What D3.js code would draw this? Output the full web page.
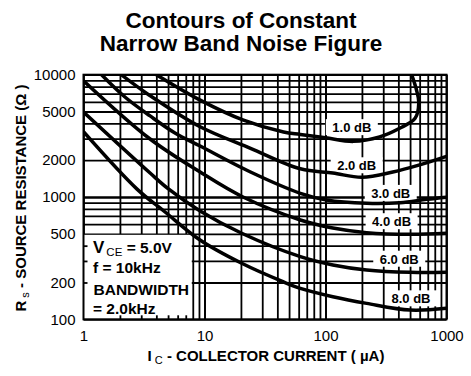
<!DOCTYPE html>
<html>
<head>
<meta charset="utf-8">
<title>Contours of Constant Narrow Band Noise Figure</title>
<script src="https://cdn.jsdelivr.net/npm/d3@7"></script>
<style>
    body { margin: 0; background: #fff; }
    text { font-family: "Liberation Sans", Arial, sans-serif; fill: #000; }
</style>
</head>
<body>
<script>
    // collector current (uA) / source resistance (ohm) for each contour
    var ic_1dB = [4.0, 9.2, 21, 45, 62, 100, 170, 280, 410, 550, 590, 565, 515];
    var rs_1dB = [10000, 6200, 4250, 3400, 3250, 3050, 2850, 3100, 3650, 4400, 5900, 7500, 10000];
    var ic_2dB = [2.05, 3.5, 9.2, 24, 62, 115, 200, 360, 600, 1000];
    var rs_2dB = [10000, 6800, 3750, 2500, 1700, 1570, 1450, 1600, 1830, 2150];
    var ic_3dB = [1.41, 2.2, 3.55, 5.7, 9.2, 24, 62, 102, 219, 413, 686, 1000];
    var rs_3dB = [10000, 6570, 4600, 3335, 2610, 1600, 1072, 945, 888, 898, 957, 995];
    var ic_4dB = [1.0, 3.55, 9.2, 20.8, 62, 115, 219, 500, 1000];
    var rs_4dB = [8930, 2980, 1600, 1000, 649, 558, 511, 495, 505];
    var ic_6dB = [1.0, 3.55, 5.0, 9.2, 20.3, 62, 115, 219, 500, 1000];
    var rs_6dB = [4950, 1570, 1170, 769, 505, 325, 278, 253, 242, 242];
    var ic_8dB = [1.0, 2.77, 4.72, 9.18, 20.3, 44.5, 62, 115, 219, 500, 1000];
    var rs_8dB = [3420, 1160, 754, 445, 287, 203, 179, 153, 135, 119, 123];

    var curveNames = ["1.0 dB", "2.0 dB", "3.0 dB", "4.0 dB", "6.0 dB", "8.0 dB"];
    var curveIc = [ic_1dB, ic_2dB, ic_3dB, ic_4dB, ic_6dB, ic_8dB];
    var curveRs = [rs_1dB, rs_2dB, rs_3dB, rs_4dB, rs_6dB, rs_8dB];
    // where each label sits (uA, ohm)
    var labelIc = [165, 181, 346, 352, 407, 509];
    var labelRs = [3690, 1800, 1070, 628, 310, 147];

    var xTicks = [1, 10, 100, 1000];
    var yTicks = [100, 200, 500, 1000, 2000, 5000, 10000];

    var W = 471, H = 376;
    var margin = {top: 74.7, left: 83.5, right: 24.5, bottom: 56.7};
    var width = W - margin.left - margin.right, height = H - margin.top - margin.bottom;

    var x = d3.scaleLog().domain([1, 1000]).range([0, width]);
    var y = d3.scaleLog().domain([100, 10000]).range([height, 0]);

    var xGrid = [], yGrid = [];
    [1, 10, 100].forEach(function (d) {
        for (var k = 1; k <= 10; k++) xGrid.push(d * k);
    });
    [100, 1000].forEach(function (d) {
        for (var k = 1; k <= 10; k++) yGrid.push(d * k);
    });

    var svg = d3.select('body').append('svg').attr('width', W).attr('height', H);

    svg.append('text').attr('x', 241).attr('y', 27.5).attr('text-anchor', 'middle')
        .attr('font-size', 22.5).attr('font-weight', 'bold').text('Contours of Constant');
    svg.append('text').attr('x', 241).attr('y', 51).attr('text-anchor', 'middle')
        .attr('font-size', 22.5).attr('font-weight', 'bold').text('Narrow Band Noise Figure');

    var g = svg.append('g').attr('transform', 'translate(' + margin.left + ',' + margin.top + ')');

    // grid
    g.append('g').attr('class', 'grid').attr('transform', 'translate(0,' + height + ')')
        .call(d3.axisBottom(x).tickValues(xGrid).tickSize(-height).tickFormat(''));
    g.append('g').attr('class', 'grid')
        .call(d3.axisLeft(y).tickValues(yGrid).tickSize(-width).tickFormat(''));
    g.selectAll('.grid .domain').remove();
    g.selectAll('.grid line').attr('stroke', '#000').attr('stroke-width', 1.8);

    // condition box in the lower-left corner
    var boxW = x(8), boxTop = y(500);
    g.append('rect').attr('x', 0).attr('y', boxTop + 1).attr('width', boxW - 1)
        .attr('height', height - boxTop - 1).attr('fill', '#fff');
    g.append('g').attr('transform', 'translate(0,' + height + ')')
        .call(d3.axisBottom(x).tickValues([2, 3, 4, 5, 6, 7]).tickSize(-4).tickFormat(''))
        .call(function (s) { s.select('.domain').remove(); s.selectAll('line').attr('stroke-width', 1.8); });
    g.append('g')
        .call(d3.axisLeft(y).tickValues([200, 300, 400]).tickSize(-4).tickFormat(''))
        .call(function (s) { s.select('.domain').remove(); s.selectAll('line').attr('stroke-width', 1.8); });

    var cond = g.append('g').attr('font-size', 15.5).attr('font-weight', 'bold');
    var t1 = cond.append('text').attr('x', 9.5).attr('y', boxTop + 19);
    t1.append('tspan').attr('font-size', 17).text('V');
    t1.append('tspan').attr('font-size', 11.5).attr('font-weight', 'normal').attr('dx', 2).attr('dy', 3).text('CE');
    t1.append('tspan').attr('dy', -3).text(' = 5.0V');
    cond.append('text').attr('x', 9.5).attr('y', boxTop + 39.5).text('f = 10kHz');
    cond.append('text').attr('x', 10).attr('y', boxTop + 61).text('BANDWIDTH');
    cond.append('text').attr('x', 9.5).attr('y', boxTop + 80.5).text('= 2.0kHz');

    // label backgrounds
    var labels = g.append('g').attr('font-size', 13).attr('font-weight', 'bold');
    labels.selectAll('rect').data(curveNames).enter().append('rect')
        .attr('x', function (d, i) { return x(labelIc[i]) - 26; })
        .attr('y', function (d, i) { return y(labelRs[i]) - 8.5; })
        .attr('width', 52).attr('height', 16).attr('fill', '#fff');

    // contours
    g.append('clipPath').attr('id', 'plotclip').append('rect')
        .attr('width', width).attr('height', height);
    var line = d3.line()
        .x(function (d) { return x(d[0]); })
        .y(function (d) { return y(d[1]); })
        .curve(d3.curveCatmullRom.alpha(0.5));
    g.append('g').attr('clip-path', 'url(#plotclip)')
        .selectAll('path').data(curveNames).enter().append('path')
        .attr('d', function (d, i) {
            return line(curveIc[i].map(function (v, j) { return [v, curveRs[i][j]]; }));
        })
        .attr('fill', 'none').attr('stroke', '#000').attr('stroke-width', 3.5);

    labels.selectAll('text').data(curveNames).enter().append('text')
        .attr('x', function (d, i) { return x(labelIc[i]); })
        .attr('y', function (d, i) { return y(labelRs[i]) + 4.5; })
        .attr('text-anchor', 'middle')
        .text(function (d) { return d; });

    // frame
    g.append('rect').attr('width', width).attr('height', height)
        .attr('fill', 'none').attr('stroke', '#000').attr('stroke-width', 2);

    // axes labels
    var xAxis = g.append('g').attr('transform', 'translate(0,' + height + ')')
        .call(d3.axisBottom(x).tickValues(xTicks).tickSize(0).tickPadding(11).tickFormat(d3.format('d')));
    var yAxis = g.append('g')
        .call(d3.axisLeft(y).tickValues(yTicks).tickSize(0).tickPadding(8).tickFormat(d3.format('d')));
    [xAxis, yAxis].forEach(function (a) {
        a.select('.domain').remove();
        a.selectAll('text').attr('font-size', 15).attr('font-family', '"Liberation Sans", Arial, sans-serif');
    });

    var xt = svg.append('text').attr('x', 266).attr('y', 361).attr('text-anchor', 'middle')
        .attr('font-size', 15).attr('font-weight', 'bold');
    xt.append('tspan').text('I');
    xt.append('tspan').attr('font-size', 11).attr('font-weight', 'normal').attr('dx', 3).attr('dy', 3).text('C');
    xt.append('tspan').attr('dy', -3).text(' - COLLECTOR CURRENT ( \u00B5A)');

    var yt = svg.append('text').attr('transform', 'translate(25.5,198) rotate(-90)')
        .attr('text-anchor', 'middle').attr('font-size', 15).attr('font-weight', 'bold');
    yt.append('tspan').text('R');
    yt.append('tspan').attr('font-size', 11).attr('font-weight', 'normal').attr('dx', 3).attr('dy', 3).text('s');
    yt.append('tspan').attr('dy', -3).text(' - SOURCE RESISTANCE (\u03A9 )');
</script>
</body>
</html>
